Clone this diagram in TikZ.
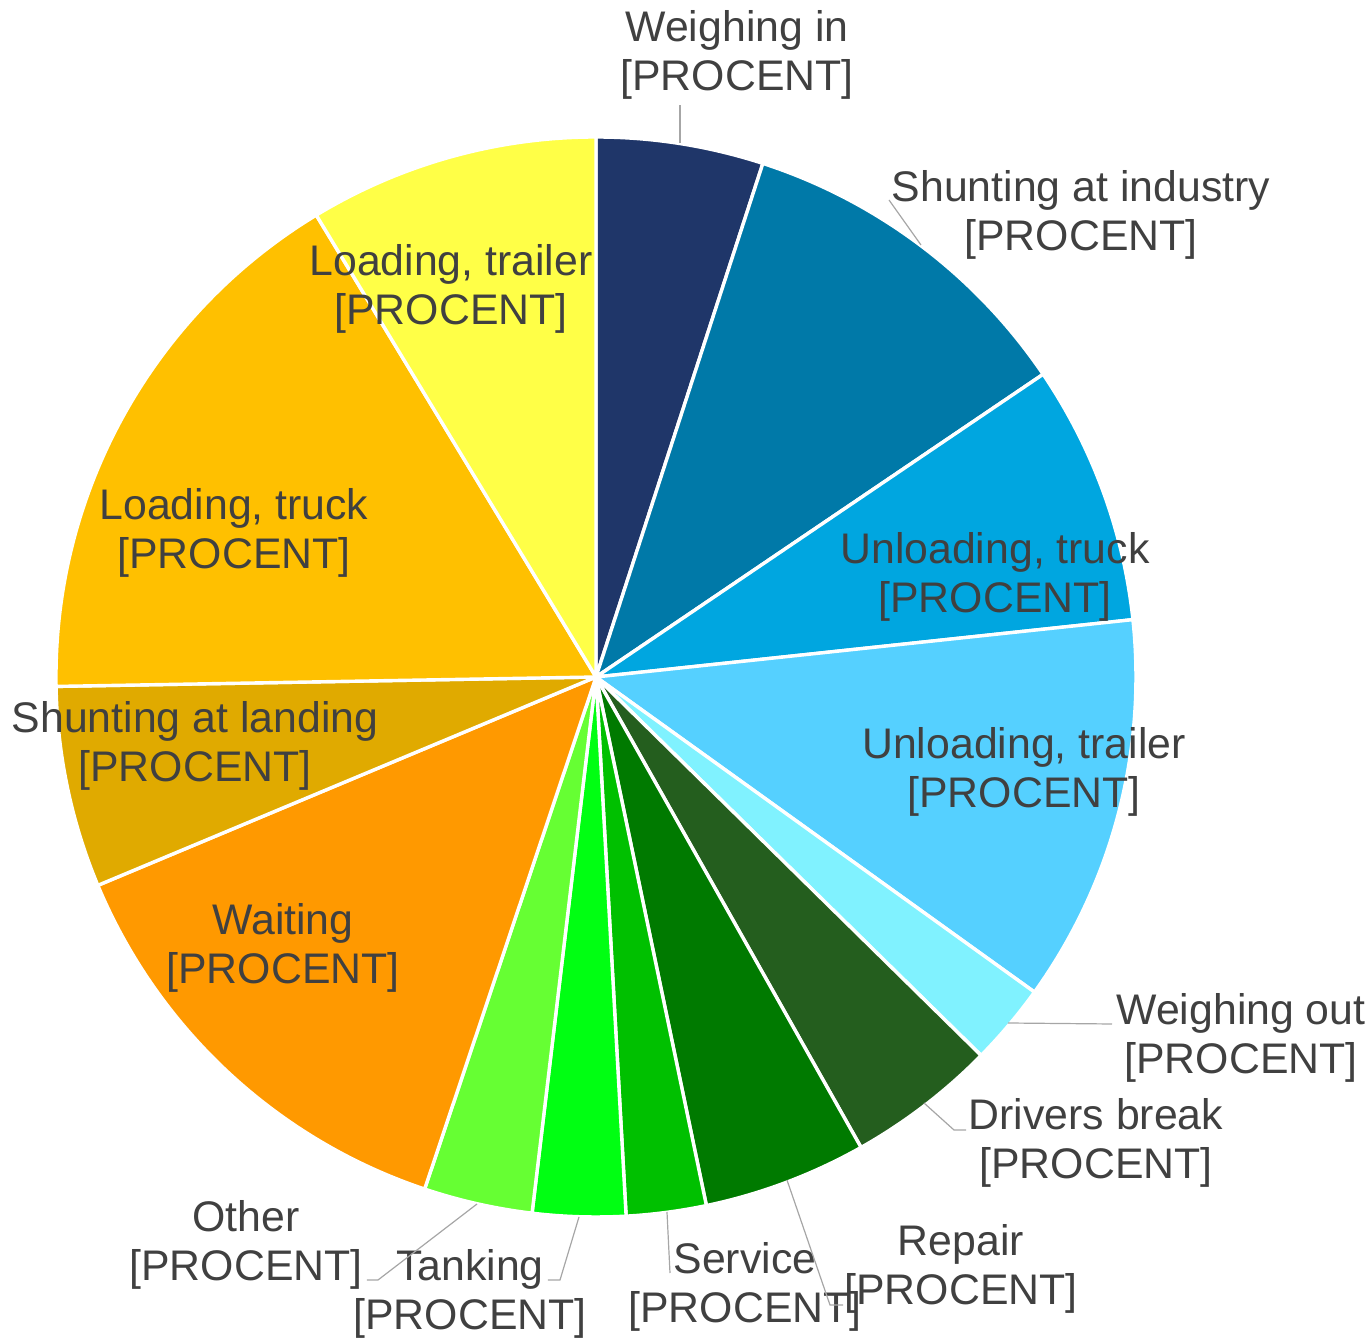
\documentclass[tikz,border=0pt]{standalone}
\usepackage{fontspec}
\setmainfont{Liberation Sans}
\usetikzlibrary{positioning}
\definecolor{cWeighIn}{HTML}{1F3669}
\definecolor{cShuntInd}{HTML}{0079A8}
\definecolor{cUnTruck}{HTML}{00A6E0}
\definecolor{cUnTrailer}{HTML}{55D0FF}
\definecolor{cWeighOut}{HTML}{80F2FF}
\definecolor{cBreak}{HTML}{245E1E}
\definecolor{cRepair}{HTML}{007A00}
\definecolor{cService}{HTML}{00C000}
\definecolor{cTanking}{HTML}{00FF12}
\definecolor{cOther}{HTML}{66FF33}
\definecolor{cWaiting}{HTML}{FF9900}
\definecolor{cShuntLand}{HTML}{E0AA00}
\definecolor{cLdTruck}{HTML}{FFC000}
\definecolor{cLdTrailer}{HTML}{FFFF47}
\definecolor{txtgray}{HTML}{404040}
\tikzset{slice/.style={draw=white, line width=1.7pt, line join=round}}
\tikzset{lbl/.style={align=center, text=txtgray, inner sep=0pt, font=\fontsize{21.4}{24.5}\selectfont}}
\tikzset{leader/.style={draw=gray!70, line width=0.6pt}}

\begin{document}
\begin{tikzpicture}[x=0.5pt,y=0.5pt]
      \useasboundingbox (-596,-661) rectangle (776,677);
      \coordinate (c) at (0,0);
      % slices, clockwise from the top
      \foreach \a/\b/\col in {90/72/cWeighIn, 72/34.1/cShuntInd, 34.1/6.1/cUnTruck,
          6.1/-35.7/cUnTrailer, -35.7/-44.5/cWeighOut, -44.5/-60.6/cBreak,
          -60.6/-78.2/cRepair, -78.2/-86.8/cService, -86.8/-96.8/cTanking,
          -96.8/-108.5/cOther, -108.5/-157.3/cWaiting, -157.3/-179/cShuntLand,
          -179/-238.8/cLdTruck, -238.8/-270/cLdTrailer}
        \fill[\col,slice] (c) -- (\a:540) arc[start angle=\a, end angle=\b, radius=540] -- cycle;
      % labels
      \node[lbl] (lWeighIn) at (141,622) {Weighing in\\{[PROCENT]}};
      \node[lbl] (lShuntInd) at (485,462) {Shunting at industry\\{[PROCENT]}};
      \node[lbl] (lUnTruck) at (399,100) {Unloading, truck\\{[PROCENT]}};
      \node[lbl] (lUnTrailer) at (428,-95) {Unloading, trailer\\{[PROCENT]}};
      \node[lbl] (lWeighOut) at (645,-361) {Weighing out\\{[PROCENT]}};
      \node[lbl] (lBreak) at (500,-466) {Drivers break\\{[PROCENT]}};
      \node[lbl] (lRepair) at (365,-592) {Repair\\{[PROCENT]}};
      \node[lbl] (lService) at (149,-610) {Service\\{[PROCENT]}};
      \node[lbl] (lTanking) at (-126,-617) {Tanking\\{[PROCENT]}};
      \node[lbl] (lOther) at (-350,-568) {Other\\{[PROCENT]}};
      \node[lbl] (lWaiting) at (-313,-271) {Waiting\\{[PROCENT]}};
      \node[lbl] (lShuntLand) at (-401,-69) {Shunting at landing\\{[PROCENT]}};
      \node[lbl] (lLdTruck) at (-362,144) {Loading, truck\\{[PROCENT]}};
      \node[lbl] (lLdTrailer) at (-145,388) {Loading, trailer\\{[PROCENT]}};
      % leader lines
      \coordinate (eWeighIn) at (84,534);
      \coordinate (tWeighIn) at (84,572);
      \coordinate (eShuntInd) at (325,432);
      \coordinate (tShuntInd) at (293,477);
      \coordinate (eWeighOut) at (412,-346);
      \coordinate (tWeighOut) at (516,-347);
      \coordinate (eBreak) at (328,-426);
      \coordinate (kBreak) at (358,-453);
      \coordinate (tBreak) at (370,-453);
      \coordinate (eRepair) at (191,-503);
      \coordinate (kRepair) at (234,-628);
      \coordinate (tRepair) at (247,-628);
      \coordinate (eService) at (71,-535);
      \coordinate (tService) at (74,-596);
      \coordinate (eTanking) at (-17,-540);
      \coordinate (kTanking) at (-36,-603);
      \coordinate (tTanking) at (-48,-603);
      \coordinate (eOther) at (-119,-527);
      \coordinate (kOther) at (-218,-603);
      \coordinate (tOther) at (-229,-603);
      \draw[leader] (eWeighIn) -- (tWeighIn);
      \draw[leader] (eShuntInd) -- (tShuntInd);
      \draw[leader] (eWeighOut) -- (tWeighOut);
      \draw[leader] (eBreak) -- (kBreak) -- (tBreak);
      \draw[leader] (eRepair) -- (kRepair) -- (tRepair);
      \draw[leader] (eService) -- (tService);
      \draw[leader] (eTanking) -- (kTanking) -- (tTanking);
      \draw[leader] (eOther) -- (kOther) -- (tOther);
    \end{tikzpicture}
\end{document}
